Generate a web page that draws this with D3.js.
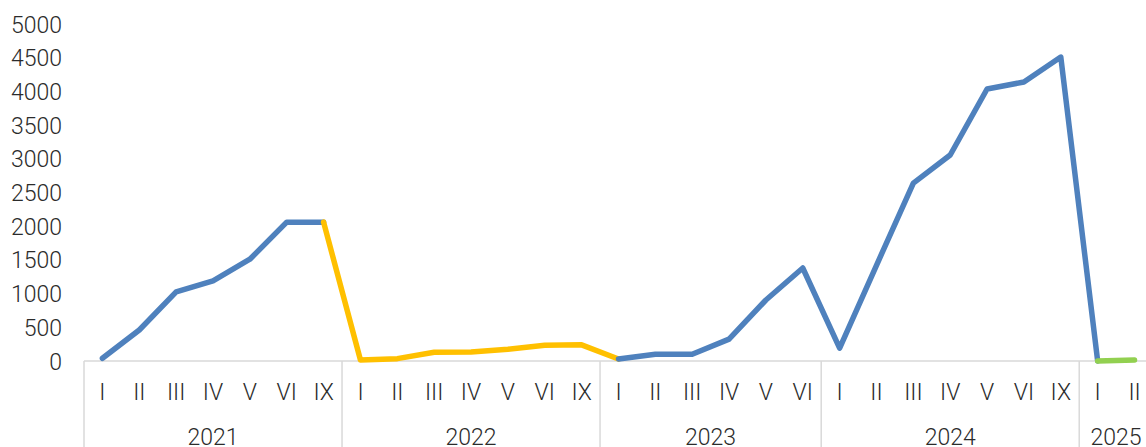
<!DOCTYPE html>
<html>
<head>
<meta charset="utf-8">
<script src="https://cdn.jsdelivr.net/npm/d3@7"></script>
<style>
html,body{margin:0;padding:0;background:#fff;}
svg{display:block;}
text{font-family:Roboto,"Noto Sans",sans-serif;font-weight:300;fill:#2b2b2b;}
</style>
</head>
<body>
<svg id="chart" width="1146" height="447"></svg>
<script>
// ---- data ----
const years = ["2021", "2022", "2023", "2024", "2025"];
const months2021 = ["I", "II", "III", "IV", "V", "VI", "IX"];
const months2022 = ["I", "II", "III", "IV", "V", "VI", "IX"];
const months2023 = ["I", "II", "III", "IV", "V", "VI"];
const months2024 = ["I", "II", "III", "IV", "V", "VI", "IX"];
const months2025 = ["I", "II"];
const values2021 = [40, 460, 1025, 1190, 1510, 2060, 2060];
const values2022 = [15, 35, 130, 135, 175, 235, 240];
const values2023 = [30, 100, 100, 325, 905, 1380];
const values2024 = [190, 1420, 2640, 3056, 4036, 4140, 4510];
const values2025 = [0, 15];
// colour of the segment leading into each point
const segColors2021 = ["blue", "blue", "blue", "blue", "blue", "blue", "blue"];
const segColors2022 = ["yellow", "yellow", "yellow", "yellow", "yellow", "yellow", "yellow"];
const segColors2023 = ["yellow", "blue", "blue", "blue", "blue", "blue"];
const segColors2024 = ["blue", "blue", "blue", "blue", "blue", "blue", "blue"];
const segColors2025 = ["blue", "green"];
const yTicks = [0, 500, 1000, 1500, 2000, 2500, 3000, 3500, 4000, 4500, 5000];

const palette = {blue: "#4F81BD", yellow: "#FFC000", green: "#92D050"};

const monthsByYear = [months2021, months2022, months2023, months2024, months2025];
const valuesByYear = [values2021, values2022, values2023, values2024, values2025];
const colorsByYear = [segColors2021, segColors2022, segColors2023, segColors2024, segColors2025];

(function () {
const points = [];
years.forEach((yr, yi) => {
  monthsByYear[yi].forEach((m, mi) => {
    points.push({year: yr, month: m, value: valuesByYear[yi][mi], color: colorsByYear[yi][mi], idx: points.length});
  });
});

// ---- layout ----
const svg = d3.select("#chart");
const plotLeft = 84, bandW = 36.86, plotTop = 24, plotBottom = 361;
const x = d3.scaleBand().domain(points.map(p => p.idx)).range([plotLeft, plotLeft + bandW * points.length]).padding(0);
const y = d3.scaleLinear().domain([0, 5000]).range([plotBottom, plotTop]);
const cx = i => x(i) + x.bandwidth() / 2;
const textColor = "#2b2b2b";

// y axis labels
const yAxis = d3.axisLeft(y).tickValues(yTicks).tickSize(0).tickPadding(0).tickFormat(d3.format("d"));
const gy = svg.append("g").attr("transform", `translate(62,0)`).call(yAxis);
gy.select(".domain").remove();
gy.selectAll("text").attr("font-size", 23).attr("fill", textColor).attr("font-family", "Roboto").attr("font-weight", 300).attr("dy", "0.35em");

// category axis
const axisColor = "#D9D9D9";
svg.append("line").attr("x1", plotLeft).attr("x2", 1146).attr("y1", plotBottom).attr("y2", plotBottom)
  .attr("stroke", axisColor).attr("stroke-width", 1.5);

// year separators
let start = 0;
const sepIdx = [0];
monthsByYear.forEach(ms => { start += ms.length; sepIdx.push(start); });
const edgeX = i => i < points.length ? x(i) : plotLeft + bandW * points.length;
sepIdx.forEach(i => {
  const xx = edgeX(i);
  svg.append("line").attr("x1", xx).attr("x2", xx).attr("y1", plotBottom).attr("y2", 447)
    .attr("stroke", axisColor).attr("stroke-width", 1.5);
});

// month labels
svg.append("g").selectAll("text").data(points).join("text")
  .attr("x", d => cx(d.idx)).attr("y", 400)
  .attr("text-anchor", "middle").attr("font-size", 23)
  .text(d => d.month);

// year labels
years.forEach((yr, yi) => {
  const xa = edgeX(sepIdx[yi]), xb = edgeX(sepIdx[yi + 1]);
  svg.append("text").attr("x", (xa + xb) / 2).attr("y", 445)
    .attr("text-anchor", "middle").attr("font-size", 23).text(yr);
});

// line segments
const line = d3.line().x(d => cx(d.idx)).y(d => y(d.value));
const runs = [];
for (let i = 1; i < points.length; i++) {
  const c = points[i].color;
  if (runs.length && runs[runs.length - 1].color === c) runs[runs.length - 1].pts.push(points[i]);
  else runs.push({color: c, pts: [points[i - 1], points[i]]});
}
svg.append("g").selectAll("path").data(runs).join("path")
  .attr("d", r => line(r.pts))
  .attr("fill", "none")
  .attr("stroke", r => palette[r.color])
  .attr("stroke-width", 5.5)
  .attr("stroke-linejoin", "round")
  .attr("stroke-linecap", "round");
})();
</script>
</body>
</html>
